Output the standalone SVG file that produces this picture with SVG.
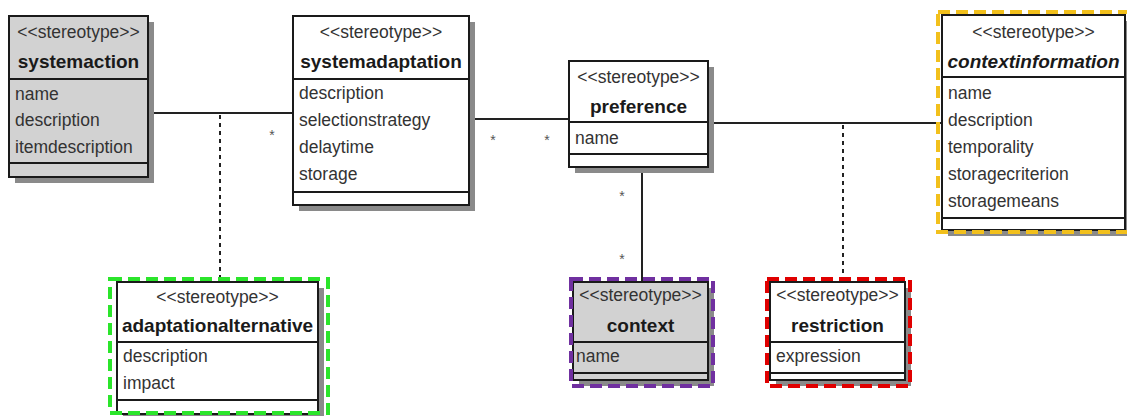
<svg xmlns="http://www.w3.org/2000/svg" width="1127" height="416" viewBox="0 0 1127 416">
<style>
.box{stroke:#1a1a1a;stroke-width:2;fill:#fff}
.gray{fill:#d2d2d2}
.sh{fill:#8a8a8a}
.div{stroke:#1a1a1a;stroke-width:2}
.st{font-family:"Liberation Sans",Arial,sans-serif;font-size:17.5px;fill:#333;text-anchor:middle}
.ti{font-family:"Liberation Sans",Arial,sans-serif;font-size:19px;font-weight:bold;fill:#1a1a1a;text-anchor:middle}
.at{font-family:"Liberation Sans",Arial,sans-serif;font-size:17.5px;fill:#333}
.line{stroke:#222;stroke-width:2;fill:none}
.dash{stroke:#222;stroke-width:2;fill:none;stroke-dasharray:4 4}
.star{font-family:"Liberation Sans",Arial,sans-serif;font-size:14px;fill:#555;text-anchor:middle}
.fr{fill:none;stroke-width:4;stroke-dasharray:12 6}
</style>
<rect width="1127" height="416" fill="#fff"/>

<g id="connectors">
<line class="line" x1="148" y1="113" x2="293" y2="113"/>
<line class="dash" x1="220" y1="115" x2="220" y2="281"/>
<text class="star" x="272" y="140">*</text>
<line class="line" x1="469" y1="119" x2="569" y2="119"/>
<text class="star" x="493" y="145">*</text>
<text class="star" x="547" y="145">*</text>
<line class="line" x1="708" y1="123" x2="942" y2="123"/>
<line class="dash" x1="843" y1="125" x2="843" y2="281"/>
<line class="line" x1="642" y1="167" x2="642" y2="282"/>
<text class="star" x="622" y="201">*</text>
<text class="star" x="622" y="264">*</text>
</g>

<g id="systemaction">
<rect class="sh" x="15" y="22" width="139" height="161"/>
<rect class="box gray" x="9" y="16" width="139" height="161"/>
<line class="div" x1="9" y1="79" x2="148" y2="79"/>
<line class="div" x1="9" y1="163" x2="148" y2="163"/>
<text class="st" x="78.5" y="38">&lt;&lt;stereotype&gt;&gt;</text>
<text class="ti" x="78.5" y="68">systemaction</text>
<text class="at" x="15" y="100">name</text>
<text class="at" x="15" y="126">description</text>
<text class="at" x="15" y="153">itemdescription</text>
</g>

<g id="systemadaptation">
<rect class="sh" x="299" y="22" width="176" height="189"/>
<rect class="box" x="293" y="16" width="176" height="189"/>
<line class="div" x1="293" y1="79" x2="469" y2="79"/>
<line class="div" x1="293" y1="192" x2="469" y2="192"/>
<text class="st" x="381" y="38">&lt;&lt;stereotype&gt;&gt;</text>
<text class="ti" x="381" y="68">systemadaptation</text>
<text class="at" x="299" y="99">description</text>
<text class="at" x="299" y="126">selectionstrategy</text>
<text class="at" x="299" y="153">delaytime</text>
<text class="at" x="299" y="180">storage</text>
</g>

<g id="preference">
<rect class="sh" x="575" y="67" width="139" height="106"/>
<rect class="box" x="569" y="61" width="139" height="106"/>
<line class="div" x1="569" y1="122" x2="708" y2="122"/>
<line class="div" x1="569" y1="154" x2="708" y2="154"/>
<text class="st" x="638.5" y="83">&lt;&lt;stereotype&gt;&gt;</text>
<text class="ti" x="638.5" y="113">preference</text>
<text class="at" x="575" y="144">name</text>
</g>

<g id="contextinformation">
<rect class="sh" x="948" y="21" width="183" height="215"/>
<rect class="box" x="942" y="15" width="183" height="215"/>
<line class="div" x1="942" y1="77" x2="1125" y2="77"/>
<line class="div" x1="942" y1="218" x2="1125" y2="218"/>
<text class="st" x="1033.5" y="38">&lt;&lt;stereotype&gt;&gt;</text>
<text class="ti" x="1033.5" y="68" font-style="italic">contextinformation</text>
<text class="at" x="948" y="99">name</text>
<text class="at" x="948" y="126">description</text>
<text class="at" x="948" y="153">temporality</text>
<text class="at" x="948" y="180">storagecriterion</text>
<text class="at" x="948" y="207">storagemeans</text>
<rect class="fr" stroke="#f2c01c" x="938" y="12" width="192" height="220"/>
</g>

<g id="adaptationalternative">
<rect class="sh" x="123" y="288" width="201" height="132"/>
<rect class="box" x="117" y="282" width="201" height="132"/>
<line class="div" x1="117" y1="342" x2="318" y2="342"/>
<line class="div" x1="117" y1="400" x2="318" y2="400"/>
<text class="st" x="217.5" y="303">&lt;&lt;stereotype&gt;&gt;</text>
<text class="ti" x="217.5" y="332">adaptationalternative</text>
<text class="at" x="123" y="362">description</text>
<text class="at" x="123" y="389">impact</text>
<rect class="fr" stroke="#2be52b" x="110" y="279" width="218" height="134"/>
</g>

<g id="context">
<rect class="sh" x="579" y="288" width="135" height="98"/>
<rect class="box gray" x="573" y="282" width="135" height="98"/>
<line class="div" x1="573" y1="342" x2="708" y2="342"/>
<line class="div" x1="573" y1="373" x2="708" y2="373"/>
<text class="st" x="640.5" y="301">&lt;&lt;stereotype&gt;&gt;</text>
<text class="ti" x="640.5" y="332">context</text>
<text class="at" x="576" y="362">name</text>
<rect class="fr" stroke="#7030a0" x="571" y="279" width="142" height="107"/>
</g>

<g id="restriction">
<rect class="sh" x="776" y="288" width="135" height="98"/>
<rect class="box" x="770" y="282" width="135" height="98"/>
<line class="div" x1="770" y1="342" x2="905" y2="342"/>
<line class="div" x1="770" y1="373" x2="905" y2="373"/>
<text class="st" x="837.5" y="301">&lt;&lt;stereotype&gt;&gt;</text>
<text class="ti" x="837.5" y="332">restriction</text>
<text class="at" x="776" y="362">expression</text>
<rect class="fr" stroke="#e00000" x="767" y="279" width="143" height="107"/>
</g>
</svg>
